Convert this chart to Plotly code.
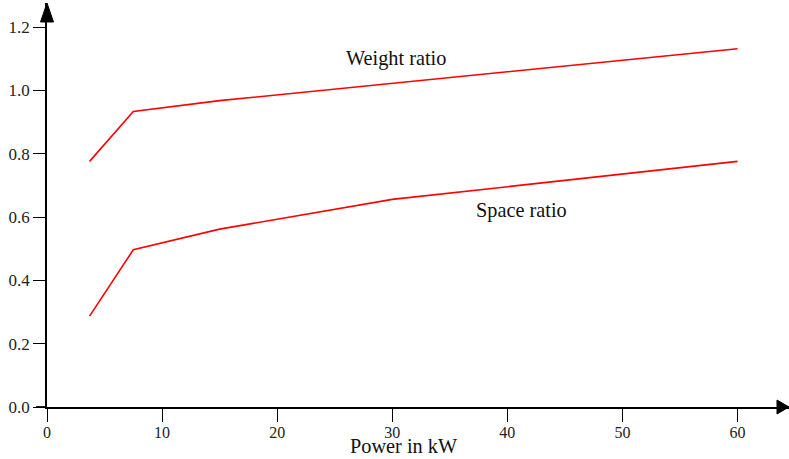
import plotly.graph_objects as go

power_kw = [3.7, 7.5, 15, 30, 60]
weight_ratio = [0.776, 0.934, 0.968, 1.022, 1.132]
space_ratio = [0.287, 0.497, 0.562, 0.656, 0.776]
x_ticks = [0, 10, 20, 30, 40, 50, 60]
y_ticks = [0.0, 0.2, 0.4, 0.6, 0.8, 1.0, 1.2]
y_tick_text = ["0.0", "0.2", "0.4", "0.6", "0.8", "1.0", "1.2"]

X_MAX = 64.47
Y_MAX = 1.2765
FONT = "Liberation Serif, Times New Roman, serif"

fig = go.Figure()
for name, vals in [("Weight ratio", weight_ratio), ("Space ratio", space_ratio)]:
    fig.add_trace(go.Scatter(x=power_kw, y=vals, mode="lines", name=name,
                             line=dict(color="#ff0000", width=1.6), showlegend=False,
                             cliponaxis=False))

fig.update_layout(
    width=789, height=459,
    margin=dict(l=47, r=0, t=3, b=52),
    paper_bgcolor="white", plot_bgcolor="white",
    font=dict(family=FONT, color="#222", size=16),
    xaxis=dict(range=[0, X_MAX], tickvals=x_ticks, showgrid=False, zeroline=False,
               automargin=False,
               showline=True, linecolor="black", linewidth=1.8,
               ticks="outside", ticklen=13, tickwidth=1.4, tickcolor="black",
               ticklabelstandoff=-3,
               tickfont=dict(size=16, family=FONT, color="#222")),
    yaxis=dict(range=[0, Y_MAX], tickvals=y_ticks, ticktext=y_tick_text, showgrid=False,
               automargin=False,
               zeroline=False, showline=True, linecolor="black", linewidth=1.8,
               ticks="outside", ticklen=12, tickwidth=1.4, tickcolor="black",
               tickfont=dict(size=17, family=FONT, color="#222")),
)

# extend x axis line slightly left of the y axis
fig.add_shape(type="line", xref="paper", yref="y", x0=-0.0148, x1=0, y0=0, y1=0,
              line=dict(color="black", width=1.8))

# arrowheads on axes (pixel-sized paths anchored at axis ends, paper refs so they are not clipped)
fig.add_shape(type="path", xref="paper", yref="paper", xsizemode="pixel", ysizemode="pixel",
              xanchor=0, yanchor=1, path="M0,0 L-6.5,-19 L6.5,-19 Z",
              fillcolor="black", line=dict(color="black", width=1))
fig.add_shape(type="path", xref="paper", yref="paper", xsizemode="pixel", ysizemode="pixel",
              xanchor=1, yanchor=0, path="M0,0 L-12,7 L-12,-7 Z",
              fillcolor="black", line=dict(color="black", width=1))

# series labels
fig.add_annotation(x=30.3, y=1.102, xref="x", yref="y", text="Weight ratio", showarrow=False,
                   font=dict(size=20.3, family=FONT, color="#111"))
fig.add_annotation(x=41.2, y=0.622, xref="x", yref="y", text="Space ratio", showarrow=False,
                   font=dict(size=20.3, family=FONT, color="#111"))

# axis title
fig.add_annotation(x=31.06, y=-0.0975, xref="x", yref="paper", yanchor="middle",
                   text="Power in kW", showarrow=False,
                   font=dict(size=20.3, family=FONT, color="#111"))

fig.write_html("out.html", config={"displayModeBar": False},
               post_script="document.body.style.margin='0';document.body.style.overflow='hidden';")
